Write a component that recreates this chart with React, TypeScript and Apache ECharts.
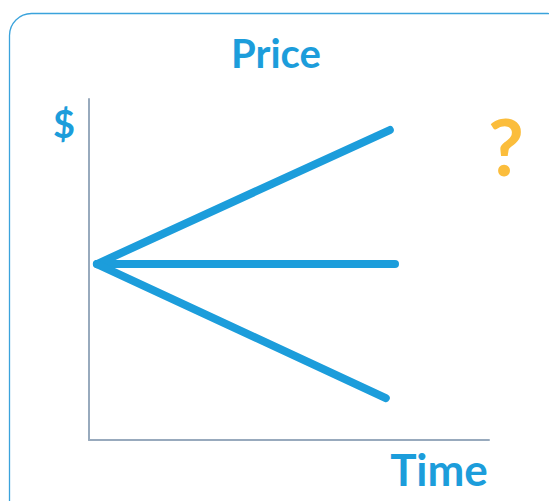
import React, { useEffect, useRef } from "react";
import * as echarts from "echarts";

const titleText = "Price";
const yAxisLabel = "$";
const xAxisLabel = "Time";
const questionMark = "?";

const originPoint = [0.2, 5.16];
const risePoint = [7.52, 9.09];
const flatPoint = [7.65, 5.16];
const fallPoint = [7.42, 1.23];

const seriesNames = ["Rise", "Flat", "Fall"];
const seriesData = [
  [originPoint, risePoint],
  [originPoint, flatPoint],
  [originPoint, fallPoint],
];

const BLUE = "#1c9ddb";

export default function App() {
  const ref = useRef<HTMLDivElement>(null);
  useEffect(() => {
    const chart = echarts.init(ref.current!, undefined, { renderer: "svg" });
    const option: any = {
      animation: false,
      backgroundColor: "#ffffff",
      grid: { left: 89, top: 99, width: 400, height: 341 },
      xAxis: {
        type: "value",
        min: 0,
        max: 10,
        axisLine: { show: true, lineStyle: { color: "#98aabd", width: 2 } },
        axisTick: { show: false },
        axisLabel: { show: false },
        splitLine: { show: false },
      },
      yAxis: {
        type: "value",
        min: 0,
        max: 10,
        axisLine: { show: true, lineStyle: { color: "#98aabd", width: 2 } },
        axisTick: { show: false },
        axisLabel: { show: false },
        splitLine: { show: false },
      },
      series: seriesNames.map((name, i) => ({
        name,
        type: "line",
        data: seriesData[i],
        showSymbol: false,
        symbol: "none",
        lineStyle: { color: BLUE, width: 8, cap: "round", join: "round" },
        z: 3,
      })),
      graphic: [
        {
          type: "rect",
          shape: { x: 9.5, y: 13.5, width: 560, height: 510, r: 22 },
          style: { fill: "none", stroke: "#3aa3dc", lineWidth: 1.3 },
          silent: true,
        },
        {
          type: "text",
          x: 276,
          y: 53,
          style: {
            text: titleText,
            fill: BLUE,
            font: "bold 40px Lato, 'Open Sans', sans-serif",
            textAlign: "center",
            textVerticalAlign: "middle",
          },
        },
        {
          type: "text",
          x: 64,
          y: 123,
          style: {
            text: yAxisLabel,
            fill: BLUE,
            font: "bold 38px Lato, 'Open Sans', sans-serif",
            textAlign: "center",
            textVerticalAlign: "middle",
          },
        },
        {
          type: "text",
          x: 506,
          y: 146,
          style: {
            text: questionMark,
            fill: "#fbbd3c",
            font: "bold 78px Lato, 'Open Sans', sans-serif",
            textAlign: "center",
            textVerticalAlign: "middle",
          },
        },
        {
          type: "text",
          x: 439,
          y: 469,
          style: {
            text: xAxisLabel,
            fill: BLUE,
            font: "bold 44px Lato, 'Open Sans', sans-serif",
            textAlign: "center",
            textVerticalAlign: "middle",
          },
        },
      ],
    };
    chart.setOption(option);
    return () => chart.dispose();
  }, []);
  return (
    <div
      ref={ref}
      style={{ position: "fixed", left: 0, top: 0, width: 549, height: 501 }}
    />
  );
}
